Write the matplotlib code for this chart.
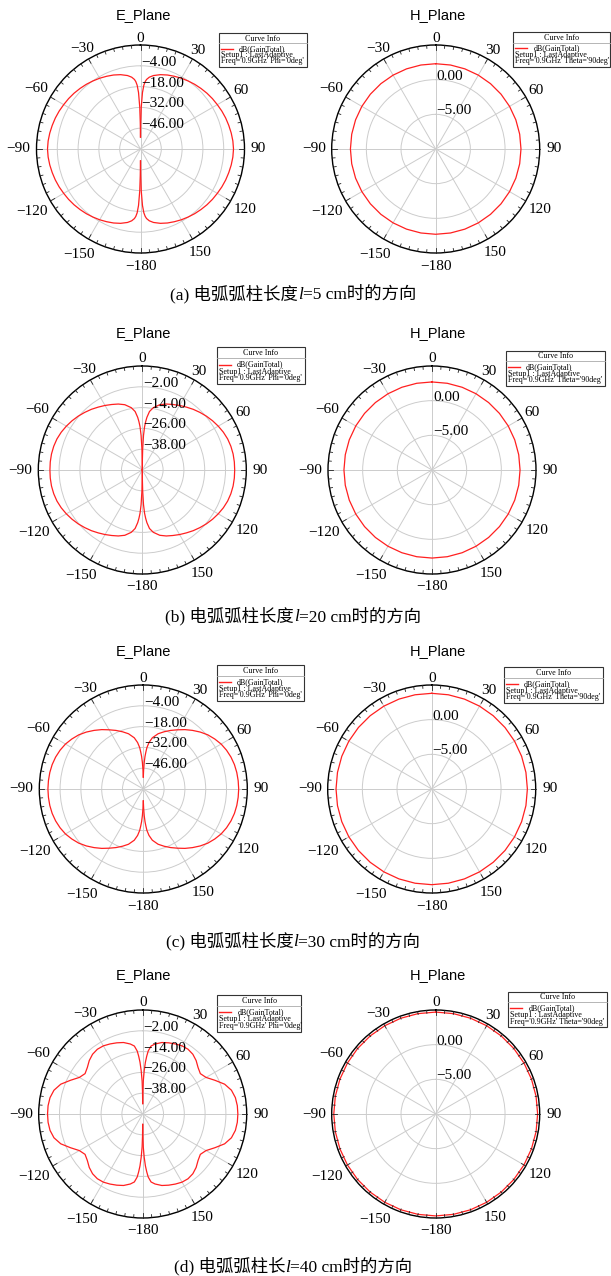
import numpy as np
import matplotlib
matplotlib.use("Agg")
import matplotlib.pyplot as plt
from matplotlib.transforms import offset_copy
from matplotlib.patches import Rectangle
from matplotlib.lines import Line2D

W, H = 611, 1276
SERIF = ["Liberation Serif", "Noto Sans CJK SC"]
SANS = ["Liberation Sans", "DejaVu Sans"]
RED = "#ff2020"
GRID = "#cccccc"

# ---------------------------------------------------------------- data
# E-plane: gain (dB) at theta from 0 to 180 deg; the cut is mirrored for -theta
E_ANG = [0, 0.5, 1, 2, 3, 4, 5, 7, 10, 15, 20, 25, 30, 35, 40, 45, 50, 55, 60,
         65, 70, 75, 80, 85, 90, 95, 100, 105, 110, 115, 120, 125, 130, 135,
         140, 145, 150, 155, 160, 165, 170, 173, 175, 176, 177, 178, 179,
         179.5, 180]

E_GAIN_L5 = [-52, -42, -32, -22, -17, -14.5, -13, -11.3, -9.8, -8.2, -7, -6,
             -5, -4.1, -3.2, -2.4, -1.6, -0.9, -0.3, 0.4, 1.0, 1.5, 2.0, 2.4,
             2.6, 2.4, 2.0, 1.5, 1.0, 0.4, -0.3, -0.9, -1.6, -2.4, -3.2, -4.1,
             -5, -6, -7, -8.2, -9.8, -11.3, -13, -14.5, -17, -22, -32, -42,
             -52]

E_GAIN_L20 = [-50, -44, -38, -30, -25, -22, -19.5, -16, -13.5, -11, -9.5,
              -8.3, -7, -5.7, -4.3, -3, -1.7, -0.5, 0.6, 1.6, 2.4, 2.9, 3.2,
              3.3, 3.3, 3.3, 3.2, 2.9, 2.4, 1.6, 0.6, -0.5, -1.7, -3, -4.3,
              -5.7, -7, -8.3, -9.5, -11, -13.5, -16, -19.5, -22, -25, -30,
              -38, -44, -50]

E_GAIN_L30 = [-52, -50, -47, -42, -38, -35, -32, -28.5, -25, -21.5, -19,
              -16.5, -14, -11.2, -8.5, -5.8, -3.3, -1.3, 0.5, 1.8, 2.8, 3.5,
              3.9, 4.1, 4.2, 4.1, 3.9, 3.5, 2.8, 1.8, 0.5, -1.3, -3.3, -5.8,
              -8.5, -11.2, -14, -16.5, -19, -21.5, -25, -28.5, -32, -35, -38,
              -42, -47, -50, -52]

E_GAIN_L40 = [-44, -37, -31, -25, -20, -16.5, -13.5, -10.5, -9, -7.3, -6.3,
              -5.4, -4.6, -4.4, -5, -6.4, -8.3, -9.4, -7.8, -4, 0.3, 3.0, 4.3,
              4.8, 4.9, 4.8, 4.3, 3.0, 0.3, -4, -7.8, -9.4, -8.3, -6.4, -5,
              -4.4, -4.6, -5.4, -6.3, -7.3, -9, -10.5, -13.5, -16.5, -20, -25,
              -31, -37, -44]

# H-plane (theta = 90 deg): gain (dB) against phi, every 10 deg
H_ANG = [0, 10, 20, 30, 40, 50, 60, 70, 80, 90, 100, 110, 120, 130, 140, 150,
         160, 170, 180, 190, 200, 210, 220, 230, 240, 250, 260, 270, 280, 290,
         300, 310, 320, 330, 340, 350, 360]
H_GAIN_L5 = [2.3, 2.3, 2.3, 2.3, 2.3, 2.3, 2.3, 2.3, 2.3, 2.3, 2.3, 2.3, 2.3,
             2.3, 2.3, 2.3, 2.3, 2.3, 2.3, 2.3, 2.3, 2.3, 2.3, 2.3, 2.3, 2.3,
             2.3, 2.3, 2.3, 2.3, 2.3, 2.3, 2.3, 2.3, 2.3, 2.3, 2.3]
H_GAIN_L20 = [2.7, 2.7, 2.7, 2.7, 2.7, 2.7, 2.7, 2.7, 2.7, 2.7, 2.7, 2.7, 2.7,
              2.7, 2.7, 2.7, 2.7, 2.7, 2.7, 2.7, 2.7, 2.7, 2.7, 2.7, 2.7, 2.7,
              2.7, 2.7, 2.7, 2.7, 2.7, 2.7, 2.7, 2.7, 2.7, 2.7, 2.7]
H_GAIN_L30 = [3.8, 3.8, 3.8, 3.8, 3.8, 3.8, 3.8, 3.8, 3.8, 3.8, 3.8, 3.8, 3.8,
              3.8, 3.8, 3.8, 3.8, 3.8, 3.8, 3.8, 3.8, 3.8, 3.8, 3.8, 3.8, 3.8,
              3.8, 3.8, 3.8, 3.8, 3.8, 3.8, 3.8, 3.8, 3.8, 3.8, 3.8]
H_GAIN_L40 = [4.7, 4.7, 4.7, 4.7, 4.7, 4.7, 4.7, 4.7, 4.7, 4.7, 4.7, 4.7, 4.7,
              4.7, 4.7, 4.7, 4.7, 4.7, 4.7, 4.7, 4.7, 4.7, 4.7, 4.7, 4.7, 4.7,
              4.7, 4.7, 4.7, 4.7, 4.7, 4.7, 4.7, 4.7, 4.7, 4.7, 4.7]

E_LIMITS = [(-60, 10), (-50, 10), (-60, 10), (-50, 10)]
E_RINGS = [[-46, -32, -18, -4], [-38, -26, -14, -2],
           [-46, -32, -18, -4], [-38, -26, -14, -2]]
H_LIMITS = (-10, 5)
H_RINGS = [-5, 0]

THETA_TICKS = [0, 30, 60, 90, 120, 150, 180, 210, 240, 270, 300, 330]
THETA_LABELS = ["0", "30", "60", "90", "120", "150", "\u2212180", "\u2212150",
                "\u2212120", "\u221290", "\u221260", "\u221230"]

CAPTIONS = [
    [("(a) \u7535\u5f27\u5f27\u67f1\u957f\u5ea6", "normal"), ("l", "italic"),
     ("=5 cm\u65f6\u7684\u65b9\u5411", "normal")],
    [("(b) \u7535\u5f27\u5f27\u67f1\u957f\u5ea6", "normal"), ("l", "italic"),
     ("=20 cm\u65f6\u7684\u65b9\u5411", "normal")],
    [("(c) \u7535\u5f27\u5f27\u67f1\u957f\u5ea6", "normal"), ("l", "italic"),
     ("=30 cm\u65f6\u7684\u65b9\u5411", "normal")],
    [("(d) \u7535\u5f27\u5f27\u67f1\u957f", "normal"), ("l", "italic"),
     ("=40 cm\u65f6\u7684\u65b9\u5411", "normal")],
]

E_GAINS = [E_GAIN_L5, E_GAIN_L20, E_GAIN_L30, E_GAIN_L40]
H_GAINS = [H_GAIN_L5, H_GAIN_L20, H_GAIN_L30, H_GAIN_L40]

# ---------------------------------------------------------------- layout (px)
R = 104
E_CENTERS = [(140.5, 149), (142.3, 470), (143.3, 789), (142.7, 1114)]
H_CENTERS = [(435.7, 149), (432.0, 470), (431.7, 789), (435.7, 1114)]
TITLE_Y = [15, 333, 651, 975]
CAPTION_Y = [292.5, 615, 940, 1265]
E_LEGEND = [(219, 33.3, 306.7, 66.5), (216.7, 347.3, 305, 384),
            (216.7, 665, 304, 700.7), (217.3, 995, 300.7, 1031.7)]
H_LEGEND = [(513.3, 32.3, 610, 66.5), (506, 350.7, 605, 386),
            (504, 666.7, 603.3, 703.3), (508.3, 991.7, 606.7, 1027.3)]
LABEL_DIST = [111, 114, 116, 118, 121, 119, 117, 122, 125, 122, 121, 116]

fig = plt.figure(figsize=(W / 100, H / 100), dpi=100)
fig.patch.set_facecolor("white")


def fx(x):
    return x / W


def fy(y):
    return 1 - y / H


def make_polar(cx, cy, limits, rings, ring_fmt):
    ax = fig.add_axes([fx(cx - R), fy(cy + R), 2 * R / W, 2 * R / H],
                      projection="polar")
    ax.set_theta_zero_location("N")
    ax.set_theta_direction(-1)
    ax.set_ylim(*limits)
    ax.set_yticks(rings)
    ax.set_yticklabels([])
    ax.set_xticks(np.radians(THETA_TICKS))
    ax.set_xticklabels([])
    ax.tick_params(axis="both", length=0)
    ax.grid(True, which="major", color=GRID, lw=0.7)
    ax.spines["polar"].set_linewidth(1.0)
    ax.spines["polar"].set_color("black")
    ax.set_facecolor("white")

    # inward tick marks on the outer ring, every 5 deg
    for ang in range(0, 360, 5):
        a = np.radians(ang)
        L = 5.0 if ang % 30 == 0 else 3.0
        r0 = (R - L) / (2 * R)
        ax.add_line(Line2D([0.5 + r0 * np.sin(a), 0.5 + 0.5 * np.sin(a)],
                           [0.5 + r0 * np.cos(a), 0.5 + 0.5 * np.cos(a)],
                           transform=ax.transAxes, color="#222222", lw=0.6,
                           clip_on=False, zorder=6))

    for ang, lab, d in zip(THETA_TICKS, THETA_LABELS, LABEL_DIST):
        a = np.radians(ang)
        ax.text(0.5 + d * np.sin(a) / (2 * R), 0.5 + d * np.cos(a) / (2 * R),
                lab, transform=ax.transAxes, ha="center", va="center",
                fontsize=11, family=SERIF)

    trans = offset_copy(ax.transData, fig=fig, x=1, y=3.5, units="dots")
    for rv in rings:
        ax.text(0, rv, ring_fmt(rv), transform=trans, ha="left", va="center",
                fontsize=11, family=SERIF, zorder=5)
    return ax


def fmt(v):
    s = f"{abs(v):.2f}"
    return ("\u2212" + s) if v < 0 else s


def draw_legend(box, last_line):
    x0, y0, x1, y1 = box
    h = y1 - y0
    fig.add_artist(Rectangle((fx(x0), fy(y1)), fx(x1) - fx(x0), fy(y0) - fy(y1),
                             transform=fig.transFigure, fill=True,
                             facecolor="white", edgecolor="#333333", lw=0.8))
    fig.add_artist(Line2D([fx(x0), fx(x1)], [fy(y0 + 0.30 * h)] * 2,
                          transform=fig.transFigure, color="#aaaaaa", lw=0.6))
    fs = 5.8
    fig.text(fx((x0 + x1) / 2), fy(y0 + 0.16 * h), "Curve Info", ha="center",
             va="center", fontsize=fs, family=SERIF)
    fig.add_artist(Line2D([fx(x0 + 2), fx(x0 + 14)], [fy(y0 + 0.47 * h)] * 2,
                          transform=fig.transFigure, color=RED, lw=1.0))
    fig.text(fx(x0 + 20), fy(y0 + 0.47 * h), "dB(GainTotal)", ha="left",
             va="center", fontsize=fs, family=SERIF)
    fig.text(fx(x0 + 2), fy(y0 + 0.66 * h), "Setup1 : LastAdaptive",
             ha="left", va="center", fontsize=fs, family=SERIF)
    fig.text(fx(x0 + 2), fy(y0 + 0.84 * h), last_line, ha="left",
             va="center", fontsize=fs, family=SERIF)


for i in range(4):
    # E-plane cut (phi = 0)
    cx, cy = E_CENTERS[i]
    ax = make_polar(cx, cy, E_LIMITS[i], E_RINGS[i], fmt)
    ang = np.array(E_ANG)
    gain = np.array(E_GAINS[i])
    ax.plot(np.radians(ang), gain, color=RED, lw=0.9, zorder=4)
    ax.plot(-np.radians(ang), gain, color=RED, lw=0.9, zorder=4)
    fig.text(fx(143), fy(TITLE_Y[i]), "E_Plane", ha="center", va="center",
             fontsize=10.5, family=SANS)
    draw_legend(E_LEGEND[i], "Freq='0.9GHz' Phi='0deg'")

    # H-plane cut (theta = 90)
    cx, cy = H_CENTERS[i]
    ax = make_polar(cx, cy, H_LIMITS, H_RINGS, fmt)
    ax.plot(np.radians(H_ANG), H_GAINS[i], color=RED, lw=0.9, zorder=4)
    fig.text(fx(438), fy(TITLE_Y[i]), "H_Plane", ha="center", va="center",
             fontsize=10.5, family=SANS)
    draw_legend(H_LEGEND[i], "Freq='0.9GHz' Theta='90deg'")

# captions with italic length symbol
renderer = fig.canvas.get_renderer()
for parts, yc in zip(CAPTIONS, CAPTION_Y):
    texts = []
    for s, style in parts:
        t = fig.text(0, fy(yc + 6.5), s, ha="left", va="baseline",
                     fontsize=12.5, family=SERIF, style=style)
        texts.append(t)
    widths = [t.get_window_extent(renderer).width for t in texts]
    x = 293 - sum(widths) / 2
    for t, w in zip(texts, widths):
        t.set_x(fx(x))
        x += w

fig.savefig("out.png", dpi=100, facecolor="white")
